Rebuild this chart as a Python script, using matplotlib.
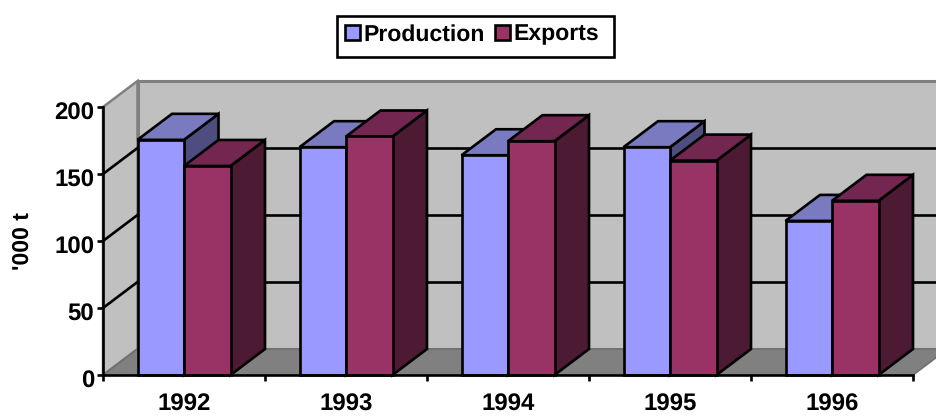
import matplotlib
matplotlib.use("Agg")
import matplotlib.pyplot as plt
from matplotlib.patches import Patch, Rectangle
from matplotlib.ticker import NullFormatter
from matplotlib.transforms import ScaledTranslation

years = ["1992", "1993", "1994", "1995", "1996"]
production = [175.5, 170, 164, 170, 115]
exports = [156, 178, 174.5, 160, 130]
y_ticks = [0, 50, 100, 150, 200]

plt.rcParams['font.family'] = ['Liberation Sans', 'DejaVu Sans']
plt.rcParams['font.weight'] = 'bold'
plt.rcParams['text.hinting'] = 'no_hinting'
plt.rcParams['text.hinting_factor'] = 1

W, H = 936, 416
fig = plt.figure(figsize=(W / 100, H / 100), dpi=100)
# front plane of the 3d box is the real axes
ax = fig.add_axes([103 / W, 1 - 375 / H, 810 / W, 268 / H])
ax.set_xlim(0, 5)
ax.set_ylim(0, 200)
ax.patch.set_visible(False)

# depth of the box in data units
dx = 34.5 / 162
dy = 26 / 1.34
bar_w = 46.5 / 162
lw = 1.9


def poly(xs, ys, color, z, edge='black', width=lw):
    ax.fill(xs, ys, facecolor=color, edgecolor=edge, linewidth=width, zorder=z,
            clip_on=False, joinstyle='miter')


# walls and floor
poly([0, dx, dx, 0], [0, dy, 200 + dy, 200], '#C0C0C0', 1, '#808080', 1.8)
poly([dx, 5 + dx, 5 + dx, dx], [dy, dy, 200 + dy, 200 + dy], '#C0C0C0', 1, '#808080', 2.2)
poly([0, dx, 5 + dx, 5], [0, dy, dy, 0], '#808080', 2, '#707070', 1.2)

for v in y_ticks[1:-1]:
    ax.plot([0, dx], [v, v + dy], color='black', lw=lw, zorder=3, clip_on=False)
    ax.plot([dx, 5 + dx], [v + dy, v + dy], color='black', lw=lw, zorder=3, clip_on=False)


def bar3d(left, value, front, top, side, z):
    right = left + bar_w
    ax.bar(left, value, bar_w, align='edge', color=front, edgecolor='black',
           linewidth=lw, zorder=z + 0.2, clip_on=False)
    poly([left, left + dx, right + dx, right],
         [value, value + dy, value + dy, value], top, z + 0.1)
    poly([right, right + dx, right + dx, right],
         [0, dy, value + dy, value], side, z)


z = 4
for i in range(len(years)):
    start = i + dx
    bar3d(start, production[i], '#9999FF', '#7A7AC0', '#4D4D80', z)
    bar3d(start + bar_w, exports[i], '#993366', '#732650', '#4D1A33', z + 1)
    z += 2

for name in ['top', 'right']:
    ax.spines[name].set_visible(False)
for name in ['left', 'bottom']:
    ax.spines[name].set_linewidth(lw)
    ax.spines[name].set_zorder(30)

ax.set_yticks(y_ticks)
ax.tick_params(axis='y', length=4, width=lw, labelsize=17, pad=0.5)
ax.set_xticks(range(6))
ax.xaxis.set_major_formatter(NullFormatter())
ax.set_xticks([i + 0.5 for i in range(5)], minor=True)
ax.set_xticklabels(years, minor=True)
ax.tick_params(axis='x', which='major', length=4.5, width=lw)
ax.tick_params(axis='x', which='minor', length=0, labelsize=17, pad=13.5)

# reference labels sit a little under their ticks
shift = ScaledTranslation(-1.7 / 72, -3.2 / 72, fig.dpi_scale_trans)
for lab in ax.get_yticklabels():
    lab.set_transform(lab.get_transform() + shift)

fig.text(23 / W, 1 - 241 / H, "'000 t", rotation=90, ha='center', va='center', fontsize=16.5)

handles = [Patch(facecolor='#9999FF', edgecolor='black', linewidth=lw, label='Production'),
           Patch(facecolor='#993366', edgecolor='black', linewidth=lw, label='Exports')]
leg = fig.legend(handles=handles, ncol=2, loc='center', bbox_to_anchor=(472 / W, 1 - 34.5 / H),
                 frameon=False, fontsize=16.3,
                 handlelength=0.68, handleheight=0.68, handletextpad=0.15, columnspacing=0.45,
                 borderpad=0.42, borderaxespad=0)
# legend frame is off centre from its entries in the reference
fig.add_artist(Rectangle((337 / W, 1 - 57 / H), 277 / W, 41 / H, transform=fig.transFigure,
                         facecolor='none', edgecolor='black', linewidth=lw))

fig.savefig("out.png", dpi=100)
